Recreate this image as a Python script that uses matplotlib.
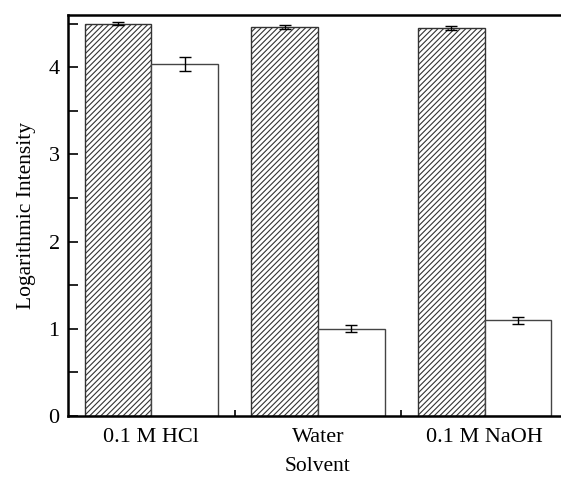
import numpy as np
import matplotlib
matplotlib.use('Agg')
import matplotlib.pyplot as plt
from matplotlib.ticker import MultipleLocator, FixedLocator

plt.rcParams['font.family'] = ['Liberation Serif', 'DejaVu Serif']
plt.rcParams['hatch.color'] = '#555555'
plt.rcParams['hatch.linewidth'] = 0.8

solvents = ['0.1 M HCl', 'Water', '0.1 M NaOH']
hatched_vals = [4.50, 4.46, 4.45]
hatched_err = [0.02, 0.025, 0.02]
open_vals = [4.04, 1.00, 1.10]
open_err = [0.08, 0.04, 0.04]

x = np.arange(1, len(solvents) + 1)
w = 0.4

fig = plt.figure(figsize=(5.61, 4.80), dpi=100)
ax = fig.add_axes([68/561, 64/480, 500/561, 401/480])

ax.bar(x - w/2, hatched_vals, w, color='white', edgecolor='#333333',
       linewidth=1.0, hatch='//////', yerr=hatched_err, capsize=4,
       error_kw=dict(elinewidth=1, ecolor='black', capthick=1))
ax.bar(x + w/2, open_vals, w, color='white', edgecolor='#444444',
       linewidth=1.0, yerr=open_err, capsize=4,
       error_kw=dict(elinewidth=1, ecolor='black', capthick=1))

ax.set_xlim(0.5, 3.5)
ax.set_ylim(0, 4.6)
ax.set_xticks(x)
ax.set_xticklabels(solvents)
ax.xaxis.set_minor_locator(FixedLocator([1.5, 2.5]))
ax.yaxis.set_major_locator(MultipleLocator(1))
ax.yaxis.set_minor_locator(MultipleLocator(0.5))
ax.tick_params(axis='both', which='major', direction='in', labelsize=16,
               width=1.2, length=7, pad=6)
ax.tick_params(axis='x', which='major', length=0, pad=9)
ax.tick_params(axis='both', which='minor', direction='in', width=1.2, length=4)
ax.tick_params(axis='y', which='minor', length=7)
for s in ax.spines.values():
    s.set_linewidth(1.8)

ax.set_xlabel('Solvent', fontsize=15.5, labelpad=7)
ax.set_ylabel('Logarithmic Intensity', fontsize=15.5, labelpad=9)

fig.savefig('out.png', dpi=100)
